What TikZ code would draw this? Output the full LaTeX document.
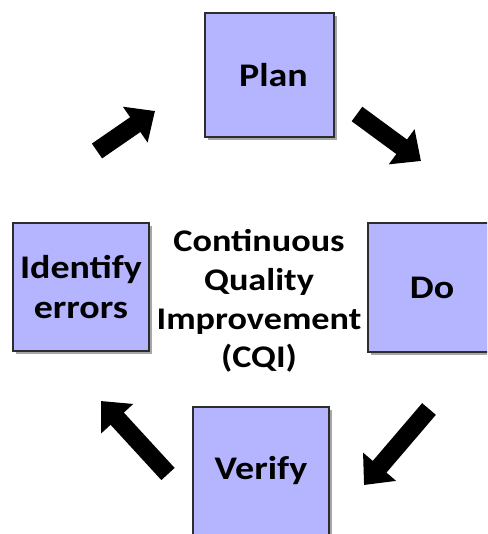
\documentclass[tikz,border=0pt]{standalone}
\usepackage{fontspec}
\setmainfont{Carlito}[FakeStretch=1.15]
\usetikzlibrary{arrows.meta,shadows}
\definecolor{boxfill}{RGB}{180,180,255}
\definecolor{boxline}{RGB}{45,45,45}
\tikzset{
  stepbox/.style={draw=boxline, line width=1.4pt, fill=boxfill,
    drop shadow={shadow xshift=2.5pt, shadow yshift=-3pt, opacity=0.35, fill=black},
    font=\fontsize{33}{40}\selectfont\bfseries, align=center, inner sep=0pt, text=black},
  bigarrow/.style={line width=18pt, draw=black,
    -{Triangle[length=24pt,width=42pt]}},
  centertext/.style={font=\fontsize{31.5}{38.7}\selectfont\bfseries, align=center, text=black}
}
\begin{document}
\begin{tikzpicture}[x=1pt,y=-1pt]
\clip (0,0) rectangle (487,534);
\fill[white] (0,0) rectangle (487,534);
\node[stepbox, minimum width=129pt, minimum height=124pt] (plan) at (269.5,75) {\hspace*{8pt}Plan};
\node[stepbox, minimum width=136pt, minimum height=128pt] (ident) at (81,287) {Identify\\errors};
\node[stepbox, minimum width=128pt, minimum height=129pt] (do) at (432,287.5) {Do};
\node[stepbox, minimum width=136pt, minimum height=128pt] (verify) at (261,471) {Verify};
\node[centertext] (cqi) at (259,301) {Continuous\\Quality\\Improvement\\(CQI)};
\coordinate (a1s) at (97,151);
\coordinate (a1e) at (155,111);
\coordinate (a2s) at (357,114);
\coordinate (a2e) at (421,161);
\coordinate (a3s) at (429,409);
\coordinate (a3e) at (364,485);
\coordinate (a4s) at (168,474);
\coordinate (a4e) at (101,401);
\draw[bigarrow] (a1s) -- (a1e);
\draw[bigarrow] (a2s) -- (a2e);
\draw[bigarrow] (a3s) -- (a3e);
\draw[bigarrow] (a4s) -- (a4e);
\end{tikzpicture}
\end{document}
